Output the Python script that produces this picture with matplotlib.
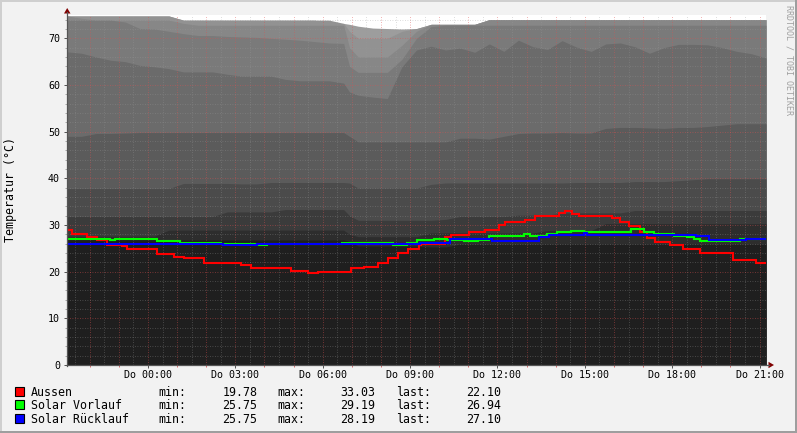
import matplotlib
matplotlib.use("Agg")
import matplotlib.pyplot as plt
from matplotlib.patches import Rectangle, Polygon
from matplotlib.lines import Line2D

plt.rcParams['font.family'] = ['DejaVu Sans Mono', 'DejaVu Sans']

W, H = 797, 433

# ---------------- data ----------------
# time axis: hours since window start; Do 00:00 is 2.78 h after the start
midnight_offset = 2.78
window_hours = 24.0

band_t = [0, 0.5, 1, 1.5, 2, 2.5, 3, 3.5, 4, 4.5, 5, 5.5, 6, 6.5, 7, 7.5, 8, 8.5, 9, 9.5,
          9.7,
          10, 10.5, 11, 11.5, 12, 12.5, 13, 13.5, 14, 14.5, 15, 15.5, 16, 16.5, 17, 17.5,
          18, 18.5, 19, 19.5, 20, 20.5, 21, 21.5, 22, 22.5, 23, 23.5, 24]

q0 = [27.2, 27.2, 27.0, 27.0, 27.0, 27.0, 27.0, 26.8, 26.8, 26.8, 26.8, 26.8, 26.8, 26.8,
      26.8, 26.8, 26.8, 26.8, 26.8, 26.8,
      26.5,
      25.5, 25.5, 25.5, 25.5, 25.5, 25.3, 25.3, 25.9, 25.9, 25.9, 25.9, 25.9, 25.9, 25.9,
      25.9, 25.9, 25.9, 25.9, 25.9, 25.9, 25.9, 25.9, 25.9, 25.9, 25.9, 25.9, 25.9, 25.9, 25.9]
q1 = [27.6, 27.6, 27.6, 27.6, 27.6, 27.6, 27.6, 28.9, 28.9, 28.9, 28.9, 28.9, 28.9, 28.9,
      28.9, 28.9, 28.9, 28.9, 28.9, 28.9,
      28.0,
      27.5, 27.5, 27.5, 27.5, 27.5, 28.3, 28.3, 28.3, 28.3, 28.3, 28.3, 28.3, 28.3, 28.8,
      28.8, 28.8, 28.8, 30.3, 30.3, 30.3, 30.3, 30.3, 30.3, 30.3, 30.3, 30.3, 30.3, 30.3, 30.3]
q2 = [31.8, 31.8, 31.8, 31.8, 31.8, 31.8, 31.8, 31.8, 31.8, 31.8, 31.8, 32.8, 32.8, 32.8,
      32.8, 33.3, 33.3, 33.3, 33.3, 33.3,
      32.0,
      31.0, 31.0, 31.0, 31.0, 31.0, 31.0, 31.2, 31.8, 31.8, 31.8, 31.8, 32.1, 32.1, 32.1,
      32.6, 32.6, 32.6, 32.6, 32.6, 33.1, 33.1, 33.1, 33.1, 33.1, 33.1, 33.1, 33.1, 33.1, 33.1]
q3 = [37.8, 37.8, 37.8, 37.8, 37.8, 37.8, 37.8, 37.8, 38.9, 38.9, 38.9, 38.9, 38.8, 38.8,
      39.1, 39.1, 39.1, 39.1, 39.1, 39.1,
      39.0,
      37.9, 37.9, 37.9, 37.9, 37.9, 38.7, 39.0, 39.0, 39.0, 39.0, 39.0, 39.0, 39.0, 39.0,
      39.0, 39.1, 39.1, 39.1, 39.1, 39.3, 39.3, 39.3, 39.5, 39.7, 39.9, 39.9, 39.9, 39.9, 39.9]
q4 = [49.0, 49.0, 49.6, 49.6, 49.7, 49.8, 49.8, 49.8, 49.8, 49.8, 49.8, 49.8, 49.8, 49.8,
      49.8, 49.8, 49.8, 49.8, 49.8, 49.8,
      49.0,
      47.8, 47.8, 47.8, 47.8, 47.8, 47.8, 47.8, 48.6, 48.6, 48.4, 49.0, 49.6, 49.7, 49.7,
      49.8, 49.7, 49.7, 50.7, 50.9, 50.9, 50.8, 50.7, 50.9, 50.9, 51.1, 51.4, 51.7, 51.7, 51.7]
q5 = [67.1, 66.8, 66.0, 65.3, 65.0, 64.2, 63.9, 63.5, 62.8, 62.8, 62.8, 62.3, 61.9, 61.9,
      61.9, 61.2, 60.9, 60.9, 60.9, 60.4,
      58.5,
      57.8, 57.4, 57.1, 63.9, 67.5, 68.3, 67.5, 67.9, 67.0, 68.8, 67.2, 69.6, 68.2, 67.6,
      69.5, 68.1, 67.2, 68.8, 69.0, 68.2, 66.8, 68.0, 68.7, 68.7, 68.6, 68.0, 67.2, 66.7, 65.8]
q6 = [73.9, 73.9, 73.9, 73.9, 73.5, 72.1, 72.0, 71.5, 71.0, 70.6, 70.6, 70.4, 70.3, 70.2,
      70.0, 69.8, 69.6, 69.3, 69.0, 68.9,
      64.0,
      62.7, 62.7, 62.7, 65.5, 70.0, 72.5, 72.8, 72.8, 72.8, 72.8, 72.8, 72.8, 72.8, 72.8,
      72.8, 72.8, 72.8, 72.8, 72.8, 72.8, 72.8, 72.8, 72.8, 72.8, 72.8, 72.8, 72.8, 72.8, 72.8]
q7 = [74.8, 74.3, 73.9, 73.9, 73.9, 73.9, 73.9, 73.9, 73.2, 72.8, 72.8, 72.8, 72.8, 72.8,
      72.8, 72.8, 72.8, 72.8, 72.8, 72.8,
      68.0,
      66.0, 66.0, 66.0, 68.5, 71.5, 73.0, 73.0, 73.0, 73.0, 74.0, 74.0, 74.0, 74.0, 74.0,
      74.0, 74.0, 74.0, 74.0, 74.0, 74.0, 74.0, 74.0, 74.0, 74.0, 74.0, 74.0, 74.0, 74.0, 74.0]
q8 = [74.8, 74.8, 74.8, 74.8, 74.8, 74.8, 74.8, 74.8, 73.9, 73.9, 73.9, 73.9, 73.9, 73.9,
      73.9, 73.9, 73.9, 73.9, 73.9, 73.2,
      71.5,
      70.0, 70.0, 70.0, 71.5, 72.1, 73.0, 73.0, 73.0, 73.0, 74.0, 74.0, 74.0, 74.0, 74.0,
      74.0, 74.0, 74.0, 74.0, 74.0, 74.0, 74.0, 74.0, 74.0, 74.0, 74.0, 74.0, 74.0, 74.0, 74.0]
q9 = [74.8, 74.8, 74.8, 74.8, 74.8, 74.8, 74.8, 74.8, 73.9, 73.9, 73.9, 73.9, 73.9, 73.9,
      73.9, 73.9, 73.9, 73.9, 73.2, 73.2,
      73.0,
      72.6, 72.2, 72.1, 72.0, 72.1, 73.0, 73.0, 73.0, 73.0, 74.0, 74.0, 74.0, 74.0, 74.0,
      74.0, 74.0, 74.0, 74.0, 74.0, 74.0, 74.0, 74.0, 74.0, 74.0, 74.0, 74.0, 74.0, 74.0, 74.0]

band_colors = ['#1f1f1f', '#2d2d2d', '#3b3b3b', '#4b4b4b', '#5b5b5b',
               '#6b6b6b', '#7a7a7a', '#878787', '#929292', '#9d9d9d']

red_t = [0, 0.17, 0.69, 1.03, 1.38, 1.9, 2.07, 3.1, 3.66, 4.0, 4.69, 5.97, 6.31, 7.69, 8.28,
         8.62, 9.76, 10.2, 10.69, 11.03, 11.38, 11.72, 12.07, 12.17, 12.97, 13.2, 13.79,
         14.34, 14.83, 15.03, 15.72, 16.07, 16.9, 17.1, 17.34, 17.59, 18.72, 18.97, 19.31,
         19.66, 19.93, 20.2, 20.69, 21.14, 21.72, 22.86, 23.66, 24.1]
red_v = [28.9, 28.0, 27.5, 26.8, 25.7, 25.4, 24.8, 23.8, 23.1, 22.9, 21.9, 21.4, 20.8, 20.1,
         19.8, 20.0, 20.7, 21.1, 21.8, 22.9, 23.9, 24.8, 25.7, 26.0, 27.5, 27.8, 28.5, 29.0,
         30.0, 30.7, 31.0, 31.9, 32.5, 33.0, 32.4, 31.9, 31.4, 30.7, 29.8, 28.5, 27.2, 26.4,
         25.7, 24.8, 23.9, 22.6, 21.9, 22.1]

green_t = [0, 1.48, 1.65, 2.16, 3.08, 3.88, 5.3, 6.46, 6.86, 9.44, 11.21, 11.67, 12.02,
           12.59, 13.05, 13.62, 14.1, 14.48, 15.68, 15.91, 16.48, 16.83, 17.29, 17.74, 18.2,
           19.12, 19.35, 19.8, 20.15, 20.84, 21.3, 21.52, 21.75, 23.1, 23.4, 24.1]
green_v = [27.0, 26.7, 27.1, 26.9, 26.6, 26.2, 26.0, 25.75, 26.0, 26.2, 25.75, 26.1, 26.8,
           27.1, 26.8, 26.5, 26.8, 27.6, 28.0, 27.7, 28.0, 28.5, 28.8, 28.5, 28.6,
           28.5, 29.2, 28.6, 28.1, 27.7, 27.4, 27.1, 26.6, 27.1, 26.9, 26.9]

blue_t = [0, 5.37, 6.53, 12.13, 13.16, 14.6, 16.2, 16.55, 17.76, 17.86, 21.6, 22.06, 23.3, 24.1]
blue_v = [26.0, 25.8, 26.0, 26.2, 26.9, 26.6, 27.4, 27.9, 28.2, 27.9, 27.6, 26.8, 27.0, 27.1]

series_names = ['Aussen', 'Solar Vorlauf', 'Solar Rücklauf']
series_colors = ['#ff0000', '#00ff00', '#0000ff']
stat_min = ['19.78', '25.75', '25.75']
stat_max = ['33.03', '29.19', '28.19']
stat_last = ['22.10', '26.94', '27.10']

x_tick_labels = ['Do 00:00', 'Do 03:00', 'Do 06:00', 'Do 09:00',
                 'Do 12:00', 'Do 15:00', 'Do 18:00', 'Do 21:00']
y_ticks = [0, 10, 20, 30, 40, 50, 60, 70]
y_label = 'Temperatur (°C)'
watermark = 'RRDTOOL / TOBI OETIKER'

# ---------------- drawing ----------------
def fx(px):
    return px / W

def fy(py):
    return 1 - py / H

fig = plt.figure(figsize=(W / 100, H / 100), dpi=100, facecolor='#f2f2f2')
ax = fig.add_axes([fx(67), fy(365), 699 / W, 350 / H])
ax.set_facecolor('white')
ax.set_xlim(0, window_hours)
ax.set_ylim(0, 75)

# smoke bands: paint from top layer down so there are no seams
bounds = [q0, q1, q2, q3, q4, q5, q6, q7, q8, q9]
for i in range(len(bounds) - 1, -1, -1):
    ax.fill_between(band_t, 0, bounds[i], color=band_colors[i], linewidth=0,
                    antialiased=False, zorder=1)

# grid (dotted)
dot = (0, (1, 2))
red_grid = dict(color='#de5151', alpha=0.6, lw=0.6, ls=dot, zorder=2)
grey_grid = dict(color='#9a9a9a', alpha=0.45, lw=0.6, ls=dot, zorder=2)
k = -3
while k < 23:
    tm = midnight_offset + k
    th = tm + 0.5
    if 0 < tm < window_hours:
        ax.axvline(tm, **red_grid)
    if 0 < th < window_hours:
        ax.axvline(th, **grey_grid)
    k += 1
for v in range(2, 75, 2):
    if v % 10 == 0:
        ax.axhline(v, **red_grid)
    else:
        ax.axhline(v, **grey_grid)

# data lines
for tt, vv, c in [(red_t, red_v, series_colors[0]),
                  (green_t, green_v, series_colors[1]),
                  (blue_t, blue_v, series_colors[2])]:
    ax.step(tt, vv, where='post', color=c, lw=1.5, zorder=4,
            solid_joinstyle='miter', solid_capstyle='butt')

# axes / ticks
for s in ax.spines.values():
    s.set_visible(False)
xt = [midnight_offset + 3 * i for i in range(len(x_tick_labels))]
ax.set_xticks(xt)
ax.set_xticklabels(x_tick_labels)
hour_ticks = [midnight_offset + h for h in range(-2, 22)]
ax.set_xticks(hour_ticks, minor=True)
ax.set_yticks(y_ticks)
ax.set_yticklabels([str(v) for v in y_ticks])
ax.set_yticks(list(range(2, 75, 2)), minor=True)
ax.tick_params(axis='both', which='major', length=2.2, width=0.72, color='#555555',
               labelsize=7.2, labelcolor='black')
ax.tick_params(axis='x', which='major', pad=1.4)
ax.tick_params(axis='y', which='major', pad=2.9)
ax.tick_params(axis='x', which='minor', length=1.5, width=0.72, color='#de7070')
ax.tick_params(axis='y', which='minor', length=1.5, width=0.72, color='#aaaaaa')

# axis lines with arrows (in figure pixels)
fig.add_artist(Line2D([fx(67), fx(67)], [fy(365.5), fy(12)], color='#555555', lw=0.9))
fig.add_artist(Line2D([fx(66.5), fx(769)], [fy(365), fy(365)], color='#555555', lw=0.9))
fig.add_artist(Polygon([(fx(64), fy(13.5)), (fx(70.5), fy(13.5)), (fx(67.2), fy(8))],
                       closed=True, color='#800000', lw=0))
fig.add_artist(Polygon([(fx(768.5), fy(361.8)), (fx(768.5), fy(368.2)), (fx(774), fy(365))],
                       closed=True, color='#800000', lw=0))

# y label & watermark
fig.text(fx(11), fy(190), y_label, rotation=90, ha='center', va='center',
         fontsize=8.4, color='black')
fig.text(fx(789), fy(5), watermark, rotation=270, ha='center', va='top',
         fontsize=6.0, color='#a0a0a0')

# legend
baselines = [395.5, 409.2, 422.9]
for i in range(3):
    b = baselines[i]
    fig.add_artist(Rectangle((fx(15), fy(b)), 9 / W, 9 / H, facecolor=series_colors[i],
                             edgecolor='black', lw=0.8, transform=fig.transFigure))
    fs = 8.4
    fig.text(fx(31), fy(b), series_names[i], ha='left', va='baseline', fontsize=fs)
    fig.text(fx(158), fy(b), 'min:', ha='left', va='baseline', fontsize=fs)
    fig.text(fx(257.5), fy(b), stat_min[i], ha='right', va='baseline', fontsize=fs)
    fig.text(fx(277.5), fy(b), 'max:', ha='left', va='baseline', fontsize=fs)
    fig.text(fx(375.5), fy(b), stat_max[i], ha='right', va='baseline', fontsize=fs)
    fig.text(fx(396.5), fy(b), 'last:', ha='left', va='baseline', fontsize=fs)
    fig.text(fx(501.5), fy(b), stat_last[i], ha='right', va='baseline', fontsize=fs)

# 3D-ish border
fig.add_artist(Rectangle((0, fy(2)), 1, 2 / H, color='#cfcfcf', lw=0, transform=fig.transFigure))
fig.add_artist(Rectangle((0, 0), 2 / W, 1, color='#cfcfcf', lw=0, transform=fig.transFigure))
fig.add_artist(Rectangle((0, 0), 1, 2 / H, color='#9e9e9e', lw=0, transform=fig.transFigure))
fig.add_artist(Rectangle((fx(795), 0), 2 / W, 1, color='#9e9e9e', lw=0, transform=fig.transFigure))

fig.savefig('out.png', dpi=100, facecolor=fig.get_facecolor())
